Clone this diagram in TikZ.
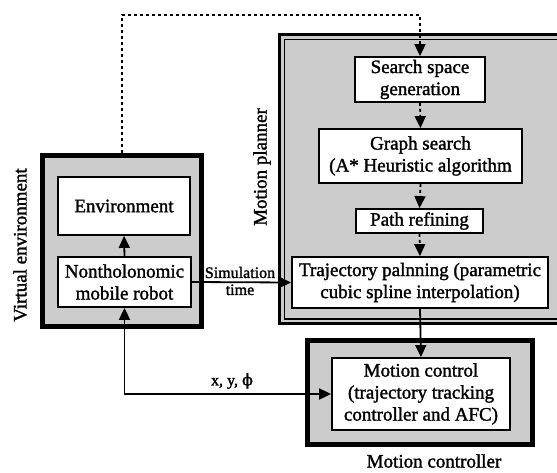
\documentclass[tikz,border=0pt]{standalone}
\usepackage{fontspec}
\setmainfont{Liberation Serif}[RawFeature={embolden=1.5}]
\newfontfamily\dvs{DejaVu Serif}[RawFeature={embolden=1.5}]
\usetikzlibrary{arrows.meta}
\begin{document}
\begin{tikzpicture}[x=1pt,y=-1pt,
  box/.style={draw,line width=1.8pt,fill=white,inner sep=0pt,align=center,
    font=\fontsize{19}{22}\selectfont},
  lbl/.style={inner sep=0pt,align=center,font=\fontsize{19}{22}\selectfont},
  small/.style={inner sep=0pt,align=center,font=\fontsize{16}{17}\selectfont},
  grp/.style={draw,fill=gray!40,inner sep=0pt},
  arr/.style={line width=1.8pt,-{Triangle[length=12pt,width=11pt]}},
  dots/.style={line width=2pt,dash pattern=on 3pt off 3pt}]
\useasboundingbox (0,0) rectangle (557,472);
% group frames
\node[grp,line width=5pt,minimum width=159pt,minimum height=171pt] (vebox) at (122,241) {};
\node[grp,line width=3.2pt,minimum width=300pt,minimum height=289pt] (planner) at (429.5,179) {};
\draw[line width=1.4pt] (284.5,39.5) rectangle (600,319);
\node[grp,line width=5pt,minimum width=225pt,minimum height=104pt] (mcbox) at (420,392.5) {};
% boxes
\node[box,minimum width=132pt,minimum height=58pt] (env) at (124,206) {Environment};
\node[box,minimum width=133pt,minimum height=50pt] (robot) at (124.5,282) {Nontholonomic\\mobile robot};
\node[box,minimum width=130pt,minimum height=45pt] (search) at (420,79.5) {Search space\\generation};
\node[box,minimum width=203pt,minimum height=54pt] (graph) at (420.5,156) {Graph search\\(A* Heuristic algorithm};
\node[box,minimum width=127pt,minimum height=24pt] (path) at (419.5,221) {Path refining};
\node[box,minimum width=256pt,minimum height=51pt] (traj) at (420,282.5) {Trajectory palnning (parametric\\cubic spline interpolation)};
\node[box,minimum width=178pt,minimum height=72pt] (mc) at (421,394) {Motion control\\(trajectory tracking\\controller and AFC)};
% labels
\node[lbl,rotate=90] (lve) at (20,245) {Virtual environment};
\node[lbl,rotate=90] (lmp) at (262,167) {Motion planner};
\node[lbl] (lmc) at (434,461) {Motion controller};
\node[small] (lsim) at (240,281) {Simulation\\time};
\node[small] (lxy) at (232,381) {x, y, {\dvs ϕ}};
% connectors
\draw[arr] (robot.north) -- (env.south);
\draw[arr] (robot.east) -- (traj.west);
\draw[line width=1.8pt,{Triangle[length=12pt,width=11pt]}-{Triangle[length=12pt,width=11pt]}] (robot.south) |- (mc.west);
\draw[dots,arr] (vebox.north) -- (vebox.north |- 0,15) -| (search.north);
\draw[dots,arr] (search.south) -- (graph.north);
\draw[dots,arr] (graph.south) -- (path.north);
\draw[dots,arr] (path.south) -- (traj.north);
\draw[arr] (traj.south) -- (mc.north);
\end{tikzpicture}
\end{document}
